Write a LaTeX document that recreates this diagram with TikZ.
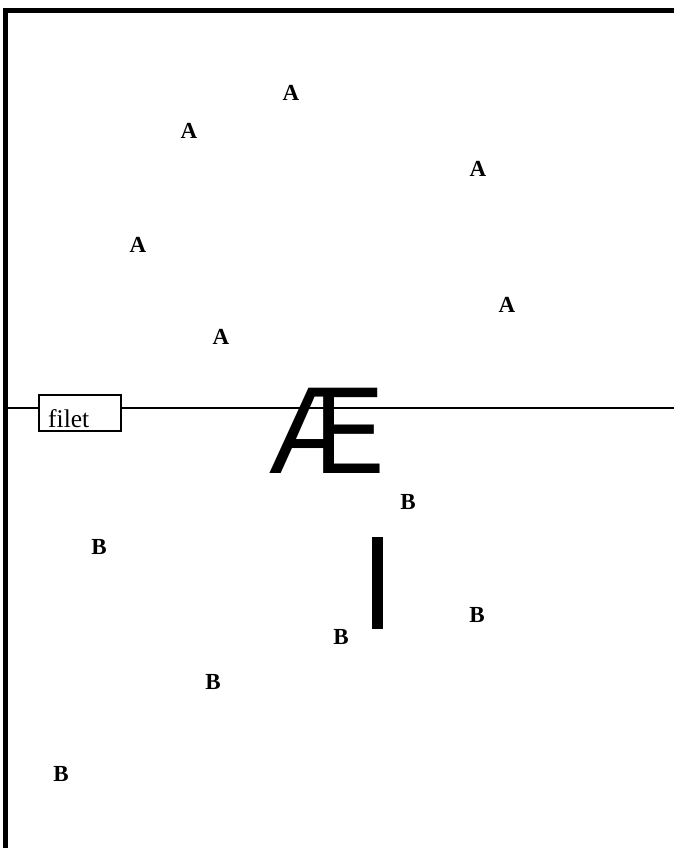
\documentclass[tikz,border=0pt]{standalone}
\usepackage{fontspec}
\usepackage{graphicx}
\setmainfont{Liberation Serif}
\newfontfamily\aesans{Liberation Sans}
\begin{document}
\begin{tikzpicture}[x=1pt,y=-1pt,
  lbl/.style={inner sep=0pt,outer sep=0pt,anchor=base,font=\fontsize{23}{23}\selectfont\bfseries},
  frame/.style={line width=4.5pt},
  rule/.style={line width=2pt}]
\useasboundingbox (0,0) rectangle (674,848);
\clip (0,0) rectangle (674,848);
\fill[white] (0,0) rectangle (674,848);
\draw[frame] (5.5,900) -- (5.5,10.5) -- (700,10.5);
\coordinate (ruleL) at (7,408);
\coordinate (ruleR) at (680,408);
\draw[rule] (ruleL) -- (ruleR);
\node[draw,fill=white,line width=1.5pt,minimum width=82pt,minimum height=36pt,inner sep=0pt,anchor=north west] (box) at (38,394) {};
\node[inner sep=0pt,anchor=base west,font=\fontsize{25.5}{25.5}\selectfont] (filet) at (48,427) {filet};
\node[inner sep=0pt,anchor=base west,font=\aesans\fontsize{124}{124}\selectfont] (ae) at (268,473) {\scalebox{0.94}[1]{Æ}};
\fill (372,537) rectangle (383,629);
\node[lbl] (a1) at (291,101) {A};
\node[lbl] (a2) at (189,139) {A};
\node[lbl] (a3) at (478,176) {A};
\node[lbl] (a4) at (138,252) {A};
\node[lbl] (a5) at (507,312) {A};
\node[lbl] (a6) at (221,344) {A};
\node[lbl] (b1) at (408,509) {B};
\node[lbl] (b2) at (99,554) {B};
\node[lbl] (b3) at (477,622) {B};
\node[lbl] (b4) at (341,644) {B};
\node[lbl] (b5) at (213,689) {B};
\node[lbl] (b6) at (61,781) {B};
\end{tikzpicture}
\end{document}
